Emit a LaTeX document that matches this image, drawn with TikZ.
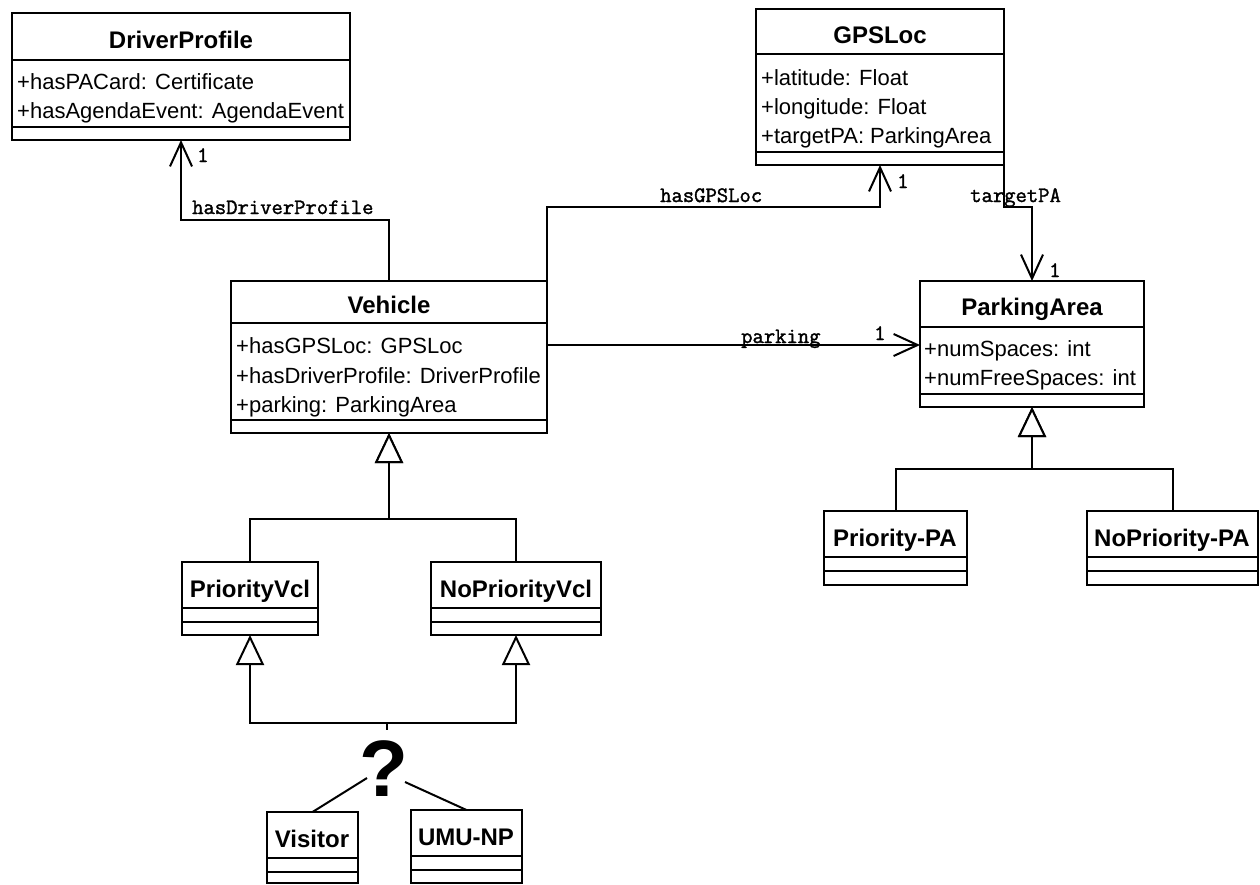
\documentclass[tikz,border=0pt]{standalone}
\usepackage{fontspec}
\setmainfont{Liberation Sans}
\newfontfamily\lblfont[FakeBold=1.6]{Latin Modern Mono}
\usetikzlibrary{arrows.meta}
\newcommand{\classbox}[7]{%
  \node[cls, minimum width={#4-#2}, minimum height={#5-#3}] (#1) at (#2,#3) {};
  \draw[div] (#2,#6) -- (#4,#6);
  \draw[div] (#2,#7) -- (#4,#7);
}
\tikzset{
  cls/.style={draw, line width=2.2pt, anchor=north west, inner sep=0pt, outer sep=0pt},
  div/.style={line width=2.2pt},
  ttl/.style={font=\fontsize{24}{28}\selectfont\bfseries, anchor=base, inner sep=0pt},
  att/.style={font=\fontsize{22}{26}\selectfont, anchor=base west, inner sep=0pt},
  lbl/.style={font=\fontsize{22}{24}\selectfont\lblfont, anchor=base west, inner sep=0pt},
  assoc/.style={line width=2pt, -{Straight Barb[length=24pt,width=22pt,line width=2pt]}},
  gen/.style={line width=2pt, -{Triangle[length=30pt,width=28pt,line width=2pt,fill=white]}},
  plain/.style={line width=2pt},
}
\begin{document}
\begin{tikzpicture}[x=1pt,y=-1pt]
\fill[white] (0,0) rectangle (1260,884);
\useasboundingbox (0,0) rectangle (1260,884);

% class boxes
\classbox{dp}{12}{13}{350}{140}{60}{127}
\classbox{gps}{756}{9}{1004}{165}{54}{152}
\classbox{veh}{231}{281}{547}{433}{323}{420}
\classbox{pa}{920}{281}{1144}{407}{327}{394}
\classbox{pvcl}{182}{562}{318}{635}{608}{622}
\classbox{npvcl}{431}{562}{601}{635}{608}{622}
\classbox{ppa}{824}{511}{967}{585}{557}{571}
\classbox{npa}{1087}{511}{1258}{585}{557}{571}
\classbox{vis}{267}{812}{358}{883}{858}{872}
\classbox{umu}{411}{810}{522}{883}{856}{870}

% titles
\node[ttl] (tdp) at (181,48) {DriverProfile};
\node[ttl] (tgps) at (880,43) {GPSLoc};
\node[ttl] (tveh) at (389,313) {Vehicle};
\node[ttl] (tpa) at (1032,315) {ParkingArea};
\node[ttl] (tpvcl) at (250,597) {PriorityVcl};
\node[ttl] (tnpvcl) at (516,597) {NoPriorityVcl};
\node[ttl] (tppa) at (895,546) {Priority-PA};
\node[ttl] (tnpa) at (1172,546) {NoPriority-PA};
\node[ttl] (tvis) at (312,847) {Visitor};
\node[ttl] (tumu) at (466,845) {UMU-NP};

% attributes
\node[att] (a1) at (17,89) {+hasPACard: Certificate};
\node[att] (a2) at (17,118) {+hasAgendaEvent: AgendaEvent};
\node[att] (a3) at (761,85) {+latitude: Float};
\node[att] (a4) at (761,114) {+longitude: Float};
\node[att] (a5) at (761,143) {+targetPA: ParkingArea};
\node[att] (a6) at (236,353) {+hasGPSLoc: GPSLoc};
\node[att] (a7) at (236,383) {+hasDriverProfile: DriverProfile};
\node[att] (a8) at (236,412) {+parking: ParkingArea};
\node[att] (a9) at (924,356) {+numSpaces: int};
\node[att] (a10) at (924,385) {+numFreeSpaces: int};

% junction coordinates
\coordinate (j1) at (181,220);
\coordinate (j2) at (880,207);
\coordinate (j3) at (1032,207);
\coordinate (p1) at (547,345);
\coordinate (g1) at (389,519);
\coordinate (g2) at (1032,469);
\coordinate (g3) at (387,723);
\coordinate (g3b) at (387,730);
\coordinate (qa) at (367,778);
\coordinate (qb) at (405,782);

% associations
\draw[assoc] (veh.north) |- (j1) -- (dp.south);
\draw[assoc] (veh.north east) |- (j2) -- (gps.south);
\draw[assoc] (gps.south east) |- (j3) -- (pa.north);
\draw[assoc] (p1) -- (p1 -| pa.west);

% association labels
\node[lbl] (l1) at (192,214) {hasDriverProfile};
\node[lbl] (l2) at (660,202) {hasGPSLoc};
\node[lbl] (l3) at (970,202) {targetPA};
\node[lbl] (l4) at (741,343) {parking};
\node[lbl] (m1) at (197,162) {1};
\node[lbl] (m2) at (897,188) {1};
\node[lbl] (m3) at (1049,277) {1};
\node[lbl] (m4) at (874,340) {1};

% generalizations
\draw[gen] (pvcl.north) |- (g1) -- (veh.south);
\draw[gen] (npvcl.north) |- (g1) -- (veh.south);
\draw[gen] (ppa.north) |- (g2) -- (pa.south);
\draw[gen] (npa.north) |- (g2) -- (pa.south);
\draw[gen] (g3) -| (pvcl.south);
\draw[gen] (g3) -| (npvcl.south);
\draw[plain] (g3) -- (g3b);

% question mark and its links
\node[font=\fontsize{80}{80}\selectfont\bfseries, inner sep=0pt] (q) at (384,769) {?};
\draw[plain] (qa) -- (vis.north);
\draw[plain] (qb) -- (umu.north);
\end{tikzpicture}
\end{document}
